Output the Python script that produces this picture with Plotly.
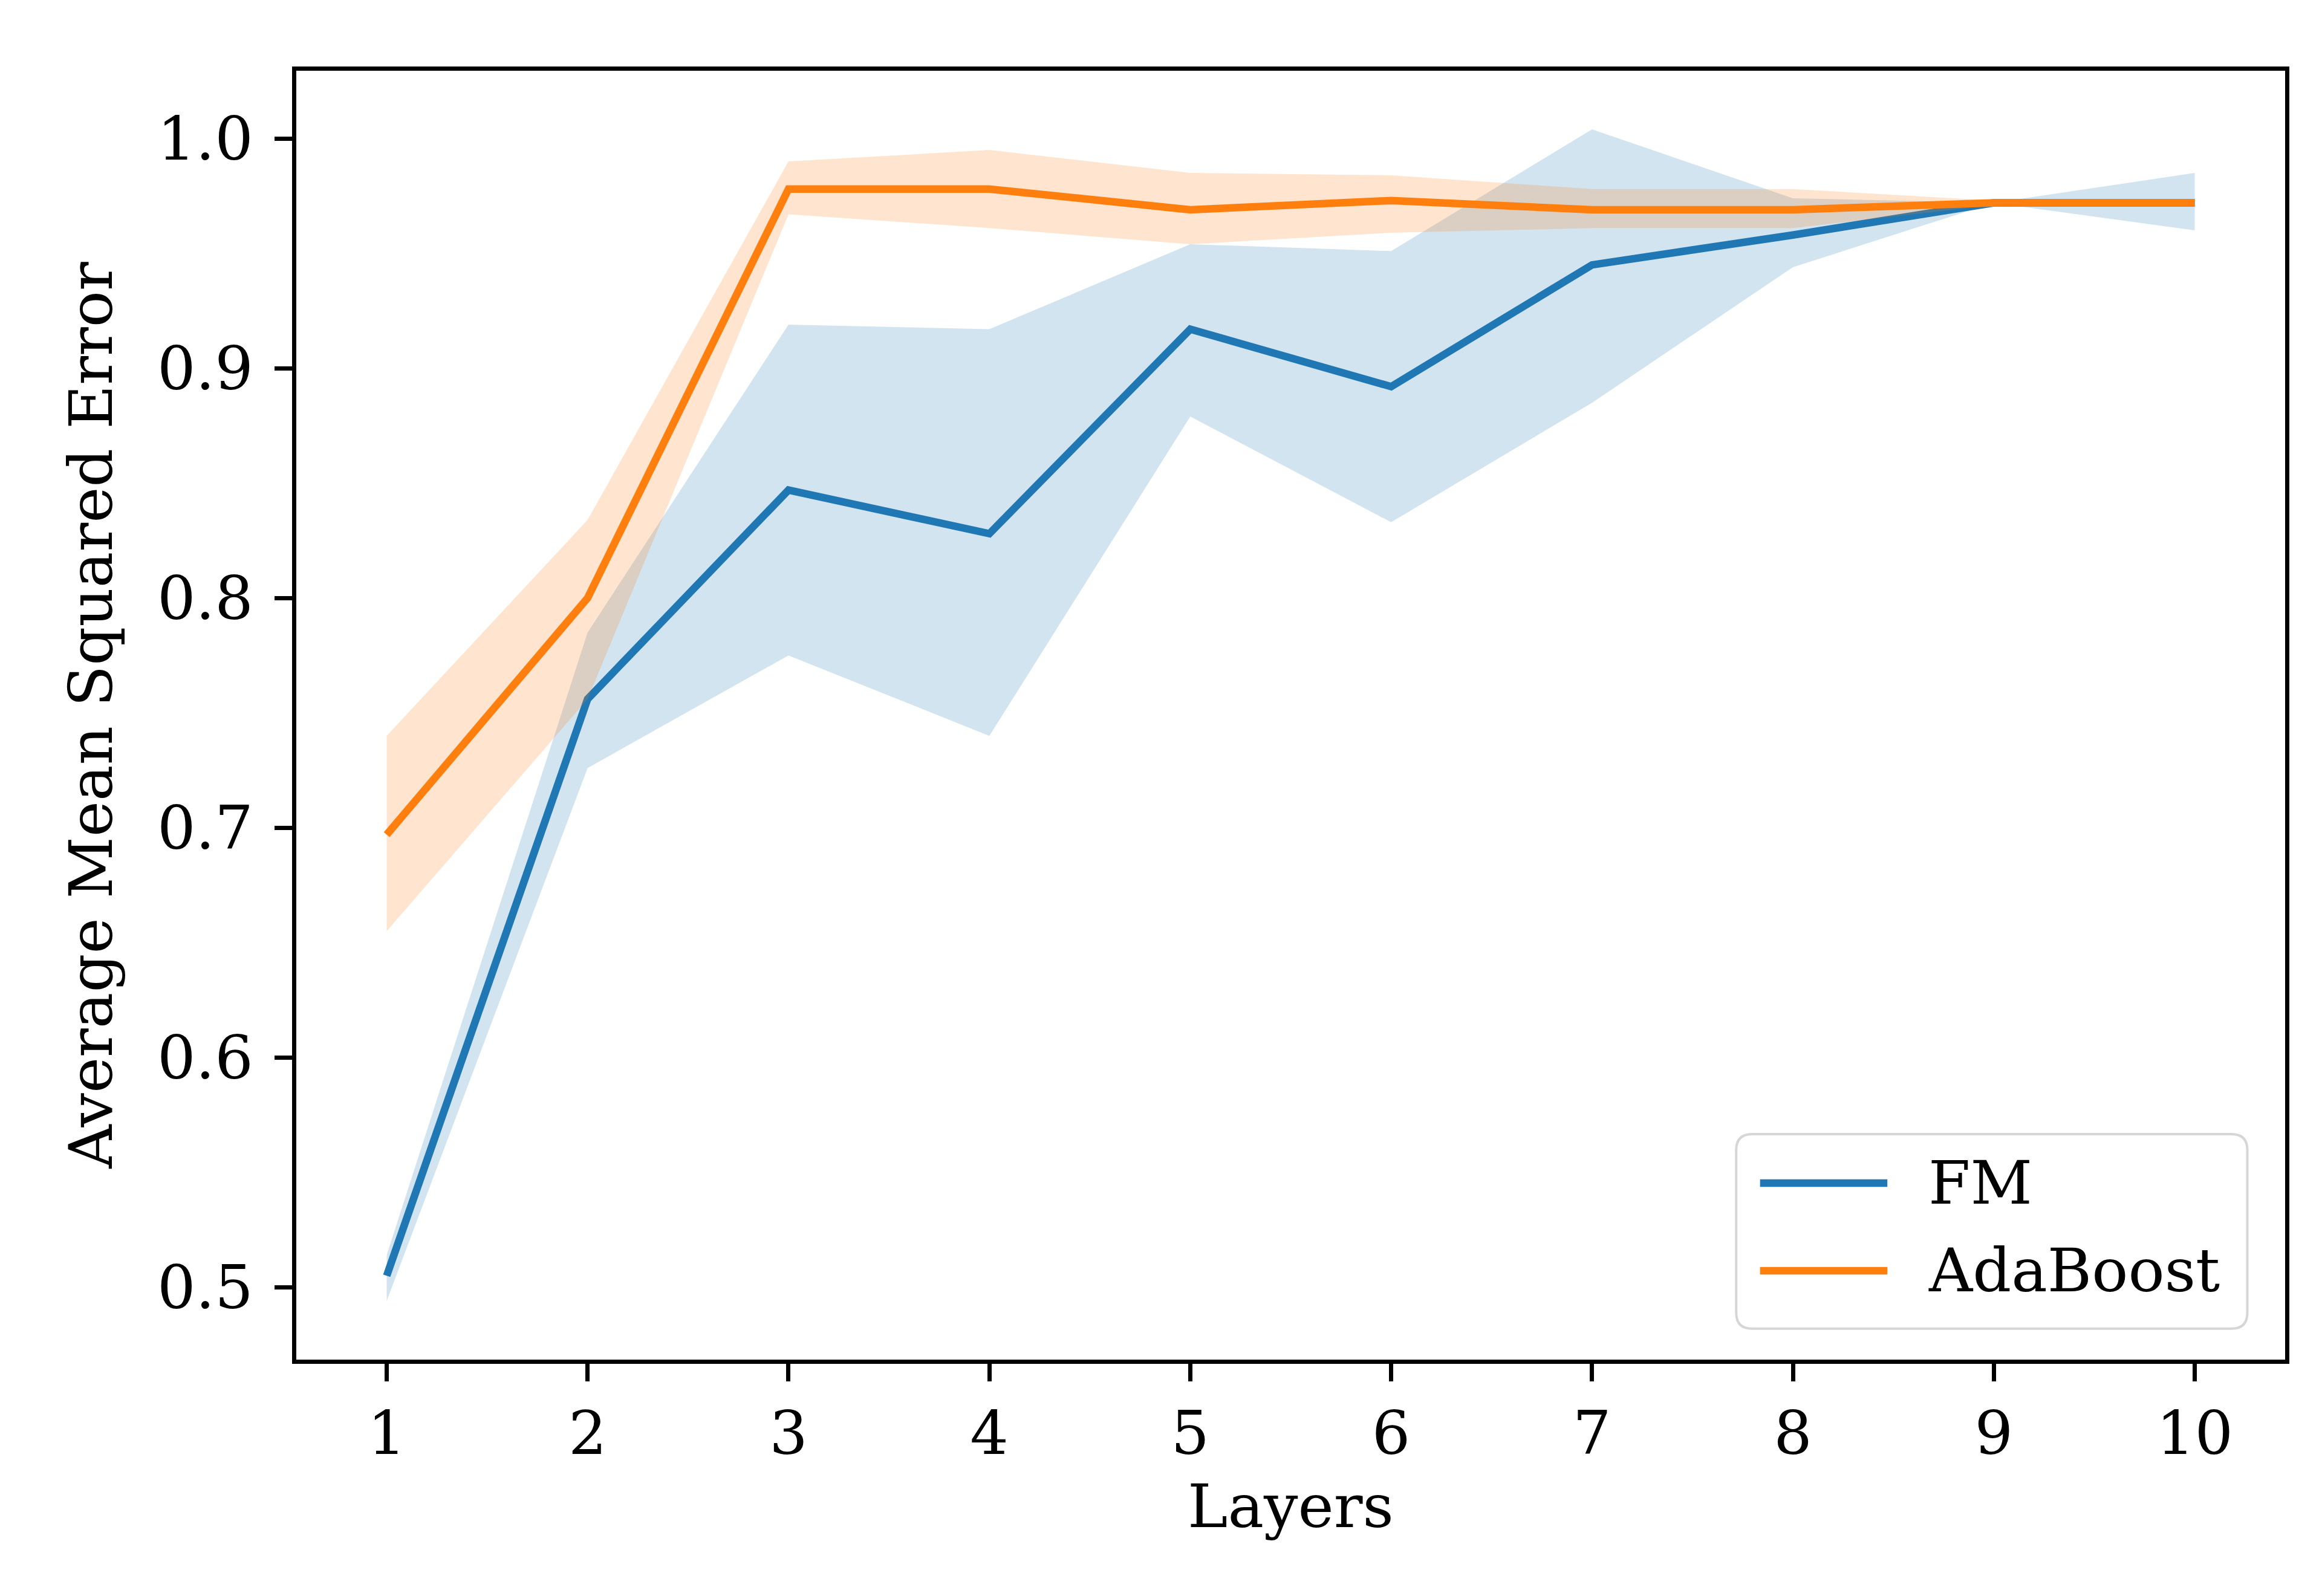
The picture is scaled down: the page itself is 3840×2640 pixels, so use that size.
import plotly.graph_objects as go

layers = [1, 2, 3, 4, 5, 6, 7, 8, 9, 10]

fm_mean = [0.505, 0.756, 0.847, 0.828, 0.917, 0.892, 0.945, 0.958, 0.972, 0.972]
fm_low = [0.494, 0.726, 0.775, 0.740, 0.879, 0.833, 0.885, 0.944, 0.972, 0.960]
fm_high = [0.514, 0.785, 0.919, 0.917, 0.954, 0.951, 1.004, 0.974, 0.972, 0.985]

ada_mean = [0.697, 0.800, 0.978, 0.978, 0.969, 0.973, 0.969, 0.969, 0.972, 0.972]
ada_low = [0.655, 0.756, 0.967, 0.961, 0.954, 0.959, 0.961, 0.961, 0.971, 0.972]
ada_high = [0.740, 0.834, 0.990, 0.995, 0.985, 0.984, 0.978, 0.978, 0.973, 0.972]

y_ticks = [0.5, 0.6, 0.7, 0.8, 0.9, 1.0]

BLUE = "#1f77b4"
ORANGE = "#ff7f0e"
FONT = "DejaVu Serif"
FS = 100

fig = go.Figure()

def add_band(low, high, mean, color, fill, name):
    fig.add_trace(go.Scatter(x=layers, y=low, mode="lines", line=dict(width=0),
                             showlegend=False, hoverinfo="skip"))
    fig.add_trace(go.Scatter(x=layers, y=high, mode="lines", line=dict(width=0),
                             fill="tonexty", fillcolor=fill, showlegend=False, hoverinfo="skip"))
    fig.add_trace(go.Scatter(x=layers, y=mean, mode="lines", name=name,
                             line=dict(color=color, width=12.5), showlegend=False))

add_band(fm_low, fm_high, fm_mean, BLUE, "rgba(31,119,180,0.2)", "FM")
add_band(ada_low, ada_high, ada_mean, ORANGE, "rgba(255,127,14,0.2)", "AdaBoost")

# legend drawn by hand so the line samples are as long as matplotlib's
x0, x1, y0, y1, r = 0.724, 0.981, 0.024, 0.175, 0.008
ry = r * 3289 / 2132
box = (f"M{x0+r},{y0} L{x1-r},{y0} Q{x1},{y0} {x1},{y0+ry} L{x1},{y1-ry} "
       f"Q{x1},{y1} {x1-r},{y1} L{x0+r},{y1} Q{x0},{y1} {x0},{y1-ry} "
       f"L{x0},{y0+ry} Q{x0},{y0} {x0+r},{y0} Z")
fig.add_shape(type="path", path=box, xref="paper", yref="paper",
              line=dict(color="#d6d6d6", width=4), fillcolor="rgba(255,255,255,0.8)")
for name, color, yy in [("FM", BLUE, 0.137), ("AdaBoost", ORANGE, 0.069)]:
    fig.add_shape(type="line", xref="paper", yref="paper", x0=0.736, x1=0.800, y0=yy, y1=yy,
                  line=dict(color=color, width=12.5))
    fig.add_annotation(x=0.820, y=yy, xref="paper", yref="paper", text=name, showarrow=False,
                       xanchor="left", yanchor="middle", font=dict(family=FONT, size=FS, color="black"))

axis_common = dict(showline=True, linecolor="black", linewidth=7, mirror=True,
                   ticks="outside", ticklen=29, tickwidth=7, tickcolor="black",
                   showgrid=False, zeroline=False,
                   tickfont=dict(family=FONT, size=FS, color="black"))

fig.update_xaxes(range=[0.55, 10.45], tickvals=layers,
                 title=dict(text="Layers", font=dict(family=FONT, size=FS, color="black"), standoff=30),
                 **axis_common)
fig.update_yaxes(range=[0.4685, 1.0295], tickvals=y_ticks, tickformat=".1f", ticklabelstandoff=15,
                 title=dict(text="Average Mean Squared Error", font=dict(family=FONT, size=FS, color="black"),
                            standoff=43),
                 **axis_common)

fig.update_layout(width=3840, height=2640, plot_bgcolor="white", paper_bgcolor="white",
                  margin=dict(l=482, r=69, t=109, b=399), showlegend=False)

fig.write_html("out.html")
